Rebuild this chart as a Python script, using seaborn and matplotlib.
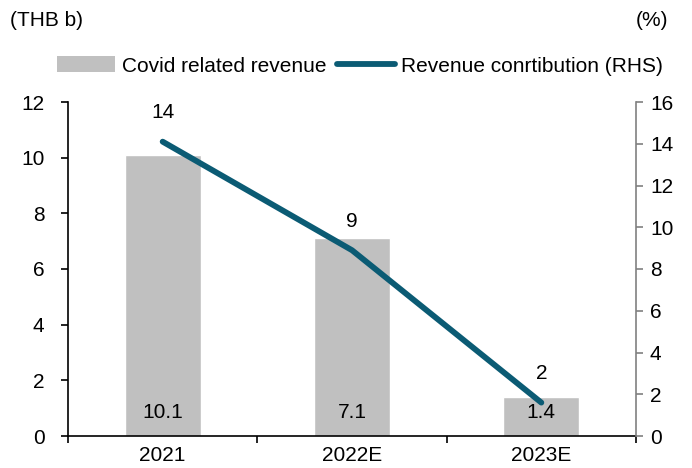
import matplotlib
matplotlib.use("Agg")
import matplotlib.pyplot as plt
import seaborn as sns
import pandas as pd
from matplotlib.patches import Patch
from matplotlib.lines import Line2D

# data
years = ["2021", "2022E", "2023E"]
covid_revenue = [10.1, 7.1, 1.4]          # THB b (LHS bars)
contribution = [14.1, 8.9, 1.6]           # % (RHS line)
bar_labels = ["10.1", "7.1", "1.4"]
line_labels = ["14", "9", "2"]
legend_labels = ["Covid related revenue", "Revenue conrtibution (RHS)"]

bar_color = "#C0C0C0"
line_color = "#0B5B74"
fs = 15

sns.set_theme(style="white")
plt.rcParams["font.family"] = ["Liberation Sans", "DejaVu Sans"]
plt.rcParams["font.size"] = fs
plt.rcParams["text.color"] = "black"
plt.rcParams["xtick.color"] = "black"
plt.rcParams["ytick.color"] = "black"

df = pd.DataFrame({"year": years, "rev": covid_revenue, "pct": contribution})

fig = plt.figure(figsize=(6.92, 4.68), dpi=100)
ax = fig.add_axes([68 / 692, 32 / 468, (636 - 68) / 692, (436 - 102) / 468])

# bars (left axis)
sns.barplot(data=df, x="year", y="rev", color=bar_color, width=0.4,
            saturation=1, ax=ax, zorder=2)
ax.set_ylim(0, 12)
ax.set_yticks(range(0, 13, 2))
ax.set_xlim(-0.5, 2.5)
ax.set_xticks([-0.5, 0.5, 1.5, 2.5], minor=False)
ax.set_xticklabels([])
ax.set_xticks([0, 1, 2], minor=True)
ax.set_xticklabels(years, minor=True)
ax.tick_params(axis="x", which="major", length=5, width=1.2, color="black",
               direction="out", bottom=True)
ax.tick_params(axis="x", which="minor", length=0, labelsize=fs, pad=7)
ax.tick_params(axis="y", length=5, width=1.2, color="black", direction="out",
               left=True, labelsize=fs, pad=12)
ax.set_xlabel("")
ax.set_ylabel("")
for s in ["top", "right"]:
    ax.spines[s].set_visible(False)
for s in ["left", "bottom"]:
    ax.spines[s].set_color("black")
    ax.spines[s].set_linewidth(1.2)

for i, lab in enumerate(bar_labels):
    ax.text(i, 0.85, lab, ha="center", va="center", fontsize=fs)

# line (right axis)
ax2 = ax.twinx()
sns.lineplot(x=[0, 1, 2], y=contribution, color=line_color, linewidth=4.2,
             ax=ax2, sort=False, solid_capstyle="round")
ax2.set_ylim(0, 16)
ax2.set_yticks(range(0, 17, 2))
ax2.set_xlim(-0.5, 2.5)
ax2.tick_params(axis="y", length=5, width=1.2, color="#808080", direction="out",
                right=True, labelsize=fs, pad=5)
for s in ["top", "left", "bottom"]:
    ax2.spines[s].set_visible(False)
ax2.spines["right"].set_color("#808080")
ax2.spines["right"].set_linewidth(1.2)
ax2.set_ylabel("")

for i, lab in enumerate(line_labels):
    ax2.annotate(lab, (i, contribution[i]), xytext=(0, 21),
                 textcoords="offset points", ha="center", va="center",
                 fontsize=fs)

fig.text(10 / 692, 1 - 20 / 468, "(THB b)", ha="left", va="center", fontsize=fs)
fig.text(668 / 692, 1 - 20 / 468, "(%)", ha="right", va="center", fontsize=fs)

handles = [Patch(facecolor=bar_color, edgecolor="none"),
           Line2D([0], [0], color=line_color, linewidth=4.2, solid_capstyle="round")]
fig.legend(handles, legend_labels,
           loc="center", bbox_to_anchor=(360 / 692, 1 - 66 / 468), ncol=2,
           frameon=False, fontsize=fs, handlelength=2.8, handleheight=0.8,
           handletextpad=0.3, columnspacing=0.5, borderaxespad=0)

fig.savefig("out.png", dpi=100)
